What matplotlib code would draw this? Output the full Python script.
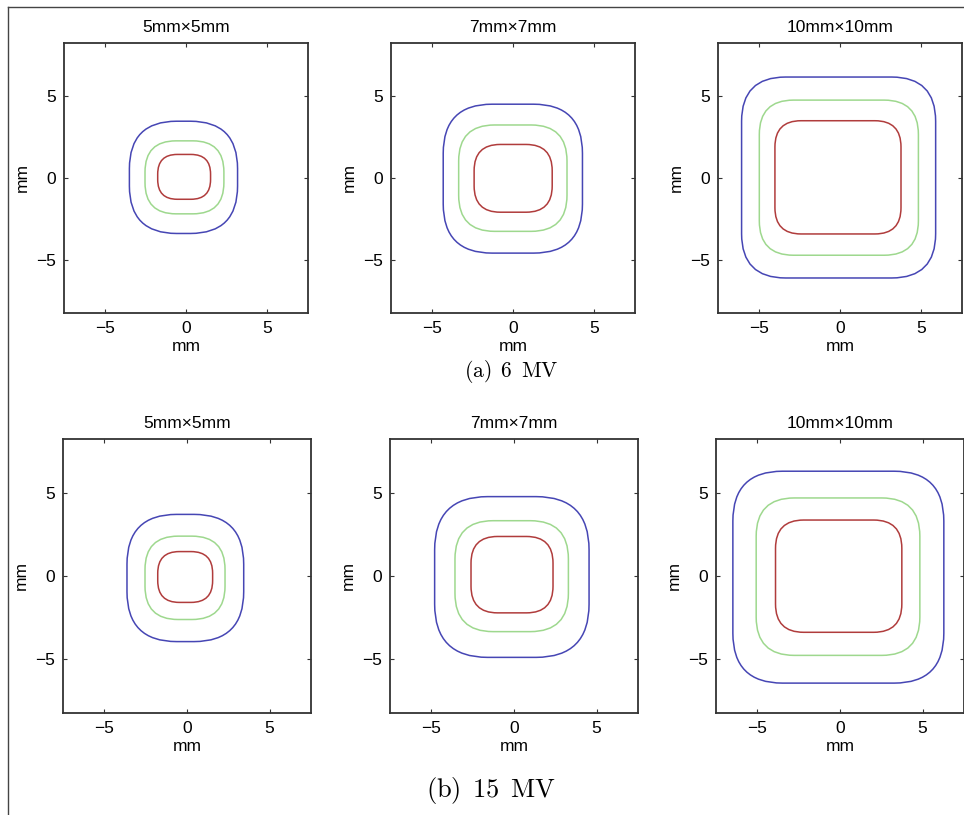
import matplotlib
matplotlib.use('Agg')
import matplotlib.pyplot as plt
from matplotlib.patches import FancyBboxPatch
from matplotlib.lines import Line2D

plt.rcParams.update({
    'font.family': ['Liberation Sans', 'DejaVu Sans'],
    'font.size': 12.5,
    'mathtext.fontset': 'cm',
})

# field sizes and beam energies
TITLES = ['5mm\u00d75mm', '7mm\u00d77mm', '10mm\u00d710mm']
CAPTIONS = [r'$\mathrm{(a)\enspace 6\enspace MV}$', r'$\mathrm{(b)\enspace 15\enspace MV}$']
TICKS = [-5, 0, 5]

# contour extents (mm), per field size, per contour [blue, green, red]
mv6_left = [[-3.48, -2.52, -1.74], [-4.29, -3.34, -2.39], [-6.05, -4.96, -4.00]]
mv6_right = [[3.17, 2.33, 1.51], [4.27, 3.32, 2.41], [5.88, 4.82, 3.75]]
mv6_bottom = [[-3.39, -2.19, -1.30], [-4.59, -3.26, -2.09], [-6.11, -4.72, -3.42]]
mv6_top = [[3.47, 2.27, 1.44], [4.51, 3.24, 2.05], [6.17, 4.76, 3.50]]
mv6_corner = [[2.9, 1.9, 1.2], [3.0, 2.2, 1.6], [2.7, 2.1, 1.6]]

mv15_left = [[-3.63, -2.54, -1.77], [-4.80, -3.57, -2.60], [-6.48, -5.07, -3.90]]
mv15_right = [[3.43, 2.30, 1.55], [4.54, 3.29, 2.36], [6.28, 4.83, 3.74]]
mv15_bottom = [[-3.95, -2.62, -1.59], [-4.90, -3.35, -2.22], [-6.45, -4.78, -3.39]]
mv15_top = [[3.71, 2.40, 1.47], [4.78, 3.33, 2.38], [6.31, 4.70, 3.37]]
mv15_corner = [[3.0, 2.0, 1.3], [3.2, 2.3, 1.6], [3.0, 2.3, 1.7]]

COLORS = ['#4646b4', '#9ed88e', '#b03c3c']

W, H = 964, 815
fig = plt.figure(figsize=(W / 100, H / 100), dpi=100)

# axes boxes in pixels: (left, top, width, height)
rows = [
    dict(lefts=[64, 391, 718], top=43, w=244, h=270,
         data=(mv6_left, mv6_right, mv6_bottom, mv6_top, mv6_corner)),
    dict(lefts=[63, 390, 716], top=439, w=248, h=274,
         data=(mv15_left, mv15_right, mv15_bottom, mv15_top, mv15_corner)),
]

for row in rows:
    L, R, B, T, C = row['data']
    for j, x0 in enumerate(row['lefts']):
        ax = fig.add_axes([x0 / W, 1 - (row['top'] + row['h']) / H,
                           row['w'] / W, row['h'] / H])
        for k in range(3):
            wd = R[j][k] - L[j][k]
            ht = T[j][k] - B[j][k]
            r = min(C[j][k], wd / 2, ht / 2)
            box = FancyBboxPatch((L[j][k], B[j][k]), wd, ht,
                                 boxstyle=f'round,pad=0,rounding_size={r}',
                                 mutation_scale=1, fill=False,
                                 edgecolor=COLORS[k], lw=1.1)
            ax.add_patch(box)
        ax.set_xlim(-7.5, 7.5)
        ax.set_ylim(-8.25, 8.25)
        ax.set_xticks(TICKS)
        ax.set_yticks(TICKS)
        ax.tick_params(direction='in', top=True, right=True, length=3,
                       width=0.8, colors='#333333', labelcolor='black', pad=6)
        for s in ax.spines.values():
            s.set_color('#333333')
            s.set_linewidth(1.3)
        ax.set_xlabel('mm', labelpad=2)
        ax.set_ylabel('mm', labelpad=4)
        ax.set_title(TITLES[j], fontsize=12.5, pad=8)

fig.text(511 / W, 1 - 371 / H, CAPTIONS[0], ha='center', va='center', fontsize=15.5)
fig.text(491 / W, 1 - 791 / H, CAPTIONS[1], ha='center', va='center', fontsize=19)

# thin frame on left and top edges
fig.add_artist(Line2D([8 / W, 8 / W], [0, 1 - 7 / H], transform=fig.transFigure,
                      color='#444444', lw=1))
fig.add_artist(Line2D([8 / W, 1], [1 - 7 / H, 1 - 7 / H], transform=fig.transFigure,
                      color='#444444', lw=1))

fig.savefig('out.png', dpi=100)
